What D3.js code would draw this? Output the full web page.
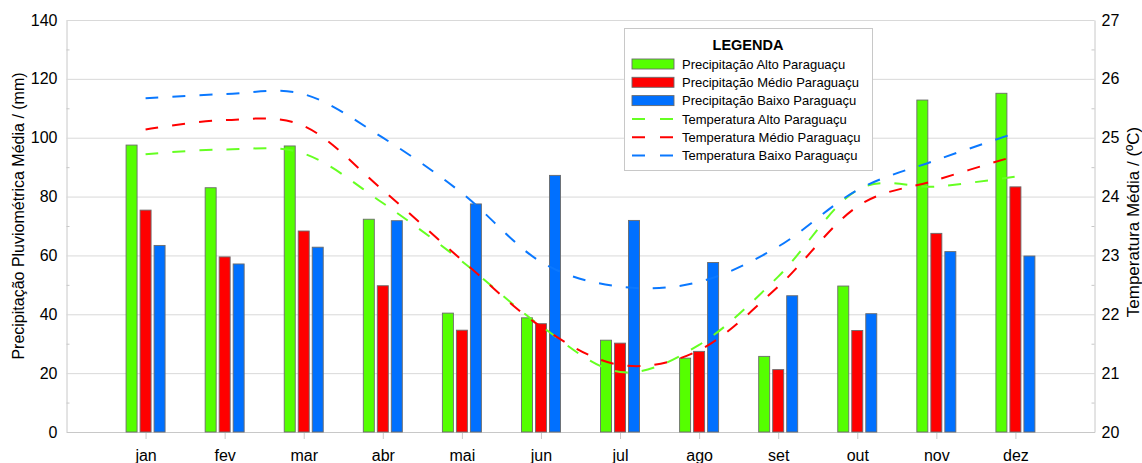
<!DOCTYPE html>
<html><head><meta charset="utf-8">
<script src="https://cdn.jsdelivr.net/npm/d3@7"></script>
<style>
body{margin:0;background:#fff}
svg{display:block;font-family:"Liberation Sans",Arial,Helvetica,sans-serif}
</style>
</head><body>
<svg id="c" width="1142" height="463"></svg>
<script>
const months = ["jan","fev","mar","abr","mai","jun","jul","ago","set","out","nov","dez"];
const precAlto  = [97.5, 83.0, 97.2, 72.3, 40.4, 38.8, 31.2, 25.1, 25.7, 49.6, 112.8, 115.1];
const precMedio = [75.4, 59.5, 68.3, 49.7, 34.6, 36.8, 30.2, 27.4, 21.2, 34.5, 67.5, 83.3];
const precBaixo = [63.4, 57.1, 62.8, 71.8, 77.5, 87.2, 71.9, 57.6, 46.3, 40.2, 61.3, 59.8];
const tempAlto  = [24.72, 24.80, 24.73, 23.89, 22.90, 21.80, 21.02, 21.48, 22.64, 24.11, 24.17, 24.34];
const tempMedio = [25.14, 25.30, 25.20, 24.11, 22.92, 21.79, 21.14, 21.39, 22.47, 23.83, 24.28, 24.69];
const tempBaixo = [25.67, 25.74, 25.74, 25.00, 24.06, 22.89, 22.47, 22.55, 23.15, 24.11, 24.62, 25.08];
const leftTicks  = [0, 20, 40, 60, 80, 100, 120, 140];
const leftMinor  = [10, 30, 50, 70, 90, 110, 130];
const rightTicks = [20, 21, 22, 23, 24, 25, 26, 27];
const rightMinor = [20.5, 21.5, 22.5, 23.5, 24.5, 25.5, 26.5];
const legendLabels = ["Precipitação Alto Paraguaçu","Precipitação Médio Paraguaçu","Precipitação Baixo Paraguaçu",
                      "Temperatura Alto Paraguaçu","Temperatura Médio Paraguaçu","Temperatura Baixo Paraguaçu"];

const barColors  = ["#55ff00", "#ff0000", "#0070ff"];
const lineColors = ["#66ff22", "#ff0000", "#0a78ff"];

const L = 66.5, R = 1094.5, T = 20, B = 432;
const svg = d3.select("#c");

const x = d3.scalePoint().domain(months).range([L, R]).padding(1);
const yL = d3.scaleLinear().domain([0, 140]).range([B, T]);
const yR = d3.scaleLinear().domain([20, 27]).range([B, T]);

// gridlines + left axis labels
const gL = svg.append("g").attr("transform", `translate(${L},0)`)
  .call(d3.axisLeft(yL).tickValues(leftTicks).tickSizeInner(-(R - L)).tickSizeOuter(0).tickPadding(9));
gL.select(".domain").attr("stroke", "#c8c8c8");
gL.selectAll(".tick line").attr("stroke", "#d9d9d9");
gL.selectAll(".tick text").attr("font-size", 16).attr("fill", "#000").attr("font-family", "Liberation Sans, Arial, sans-serif");
svg.append("g").attr("transform", `translate(${L},0)`)
  .call(d3.axisRight(yL).tickValues(leftMinor).tickSize(3).tickFormat(""))
  .call(g => g.select(".domain").remove())
  .selectAll("line").attr("stroke", "#c8c8c8");

// right axis
const gR = svg.append("g").attr("transform", `translate(${R},0)`)
  .call(d3.axisRight(yR).tickValues(rightTicks).tickSize(0).tickPadding(7).tickFormat(d3.format("d")));
gR.select(".domain").attr("stroke", "#c8c8c8");
gR.selectAll(".tick text").attr("font-size", 16).attr("fill", "#000").attr("font-family", "Liberation Sans, Arial, sans-serif");
svg.append("g").attr("transform", `translate(${R},0)`)
  .call(d3.axisLeft(yR).tickValues(rightMinor).tickSize(3).tickFormat(""))
  .call(g => g.select(".domain").remove())
  .selectAll("line").attr("stroke", "#c8c8c8");

// bottom axis
const gB = svg.append("g").attr("transform", `translate(0,${B})`)
  .call(d3.axisBottom(x).tickSize(7).tickPadding(11).tickSizeOuter(0));
gB.select(".domain").attr("stroke", "#c8c8c8");
gB.selectAll(".tick line").attr("stroke", "#c8c8c8");
gB.selectAll(".tick text").attr("font-size", 16).attr("fill", "#000").attr("font-family", "Liberation Sans, Arial, sans-serif");

// bars
const series = [precAlto, precMedio, precBaixo];
const offsets = [-14, 0, 14];
const bw = 11;
series.forEach((vals, s) => {
  svg.append("g").selectAll("rect").data(vals).join("rect")
    .attr("x", (d, i) => x(months[i]) + offsets[s] - bw / 2)
    .attr("y", d => yL(d))
    .attr("width", bw)
    .attr("height", d => B - yL(d))
    .attr("fill", barColors[s])
    .attr("stroke", "#6b6b6b")
    .attr("stroke-width", 0.9);
});

// temperature lines
const line = d3.line().x((d, i) => x(months[i])).y(d => yR(d)).curve(d3.curveCardinal.tension(0));
[tempAlto, tempMedio, tempBaixo].forEach((vals, s) => {
  svg.append("path").datum(vals)
    .attr("d", line)
    .attr("fill", "none")
    .attr("stroke", lineColors[s])
    .attr("stroke-width", 2)
    .attr("stroke-dasharray", "13,14");
});

// axis titles
svg.append("text")
  .attr("transform", "translate(24,216) rotate(-90)")
  .attr("text-anchor", "middle").attr("font-size", 16).attr("fill", "#000")
  .text("Precipitação Pluviométrica Média / (mm)");
svg.append("text")
  .attr("transform", "translate(1139,222) rotate(-90)")
  .attr("text-anchor", "middle").attr("font-size", 17).attr("fill", "#000")
  .text("Temperatura Média / (ºC)");

// legend
const lg = svg.append("g");
lg.append("rect").attr("x", 624.5).attr("y", 28.5).attr("width", 248).attr("height", 142)
  .attr("fill", "#fff").attr("stroke", "#c8c8c8");
lg.append("text").attr("x", 748).attr("y", 50).attr("text-anchor", "middle")
  .attr("font-size", 14.5).attr("font-weight", "bold").text("LEGENDA");
legendLabels.forEach((lab, i) => {
  const cy = 64 + i * 18.3;
  if (i < 3) {
    lg.append("rect").attr("x", 632).attr("y", cy - 5).attr("width", 42).attr("height", 10)
      .attr("fill", barColors[i]).attr("stroke", "#6b6b6b").attr("stroke-width", 0.9);
  } else {
    lg.append("line").attr("x1", 632).attr("x2", 674).attr("y1", cy).attr("y2", cy)
      .attr("stroke", lineColors[i - 3]).attr("stroke-width", 2).attr("stroke-dasharray", "13,15");
  }
  lg.append("text").attr("x", 682).attr("y", cy + 4.6).attr("font-size", 13).attr("fill", "#000").text(lab);
});
</script>
</body></html>
